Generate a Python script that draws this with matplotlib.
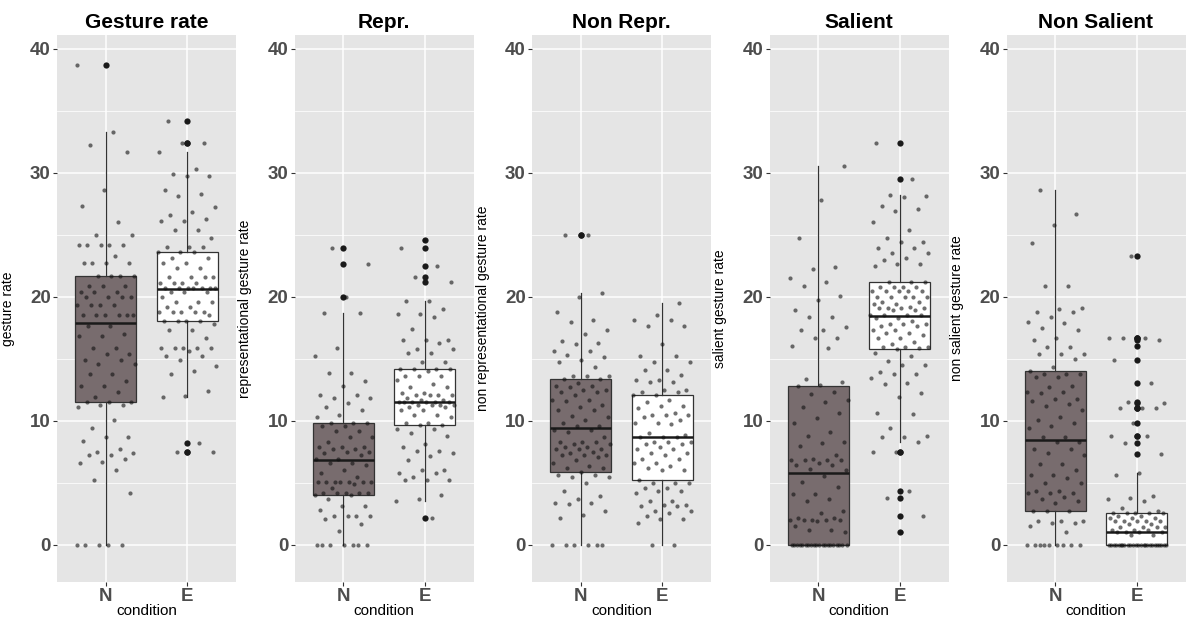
import numpy as np
import matplotlib
matplotlib.use("Agg")
import matplotlib.pyplot as plt

plt.rcParams['font.family'] = ['Liberation Sans', 'DejaVu Sans']

# values (rate per participant), N and E conditions
rate_N = [38.7, 33.3, 32.2, 31.7, 28.6, 27.3, 26.0, 25.0, 25.0, 24.2, 24.2, 24.2, 24.2, 24.2,
          23.3, 22.7, 22.7, 22.7, 22.7, 21.7, 21.7, 21.7, 21.7, 20.9, 20.9, 20.9, 20.4, 20.4,
          20.4, 20.0, 20.0, 20.0, 20.0, 19.3, 19.3, 19.3, 19.3, 18.5, 18.5, 18.5, 18.5, 18.5,
          18.5, 17.6, 17.6, 17.0, 16.8, 16.8, 15.9, 15.9, 15.4, 15.4, 14.9, 14.9, 14.6, 14.6,
          13.8, 13.8, 13.2, 12.8, 12.8, 12.3, 11.9, 11.5, 11.5, 11.5, 11.3, 11.3, 11.1, 10.1,
          9.4, 8.7, 8.7, 8.4, 7.7, 7.5, 7.4, 7.2, 7.2, 6.9, 6.7, 6.6, 6.0, 5.2, 4.2,
          0, 0, 0, 0, 0]
rate_E = [34.2, 32.4, 32.4, 31.7, 30.3, 29.9, 29.7, 29.7, 28.6, 28.3, 28.1, 27.2, 26.85, 26.6,
          26.25, 26.1, 26.1, 25.4, 25.4, 24.7, 24.0, 24.0, 24.0, 23.6, 23.6, 23.6, 23.1, 23.1,
          22.7, 22.7, 22.3, 22.3, 21.6, 21.6, 21.6, 21.6, 21.1, 21.1, 21.1, 21.1, 20.7, 20.7,
          20.7, 20.7, 20.7, 20.7, 20.7, 20.4, 20.4, 20.4, 20.0, 19.6, 19.6, 19.6, 19.2, 19.2,
          18.8, 18.8, 18.8, 18.8, 18.8, 18.5, 18.05, 18.05, 18.05, 18.05, 17.8, 17.35, 17.35,
          16.7, 15.9, 15.9, 15.9, 15.9, 15.9, 15.6, 15.2, 15.2, 14.9, 14.45, 14.0, 13.8, 12.4,
          12.0, 11.9, 8.2, 7.5, 7.5]

repr_N = [23.95, 22.6, 20.0, 18.7, 18.7, 15.9, 15.2, 13.85, 13.85, 13.2, 12.8, 12.1, 12.1,
          11.8, 11.8, 11.45, 11.1, 10.85, 10.5, 10.3, 9.85, 9.85, 9.85, 9.6, 9.6, 9.2, 9.2,
          8.7, 8.7, 8.3, 7.9, 7.9, 7.9, 7.7, 7.7, 7.5, 7.5, 7.4, 7.2, 6.9, 6.9, 6.6, 6.6, 6.4,
          6.0, 5.8, 5.5, 5.1, 5.1, 5.1, 5.1, 5.1, 5.1, 5.1, 4.9, 4.6, 4.2, 4.2, 4.2, 4.2, 4.2,
          4.0, 4.0, 3.7, 3.1, 3.1, 2.8, 2.3, 2.3, 2.3, 2.3, 2.1, 1.7, 1.1,
          0, 0, 0, 0, 0, 0, 0]
repr_E = [24.6, 23.9, 22.5, 21.6, 21.2, 19.65, 19.65, 19.0, 18.6, 18.6, 18.4, 17.4, 16.5, 16.5,
          16.5, 16.3, 15.75, 15.75, 15.5, 15.5, 14.7, 14.7, 14.2, 14.2, 14.2, 14.2, 14.0, 13.6,
          13.6, 13.6, 13.3, 12.95, 12.7, 12.7, 12.25, 12.25, 12.1, 12.1, 12.1, 12.1, 11.8,
          11.65, 11.65, 11.5, 11.5, 11.5, 11.5, 11.5, 11.5, 11.3, 11.3, 11.3, 11.3, 11.1, 11.1,
          10.85, 10.85, 10.45, 10.45, 10.3, 9.85, 9.85, 9.65, 9.65, 9.3, 9.3, 9.0, 8.8, 8.1,
          7.9, 7.6, 7.6, 7.4, 7.15, 6.8, 6.0, 6.0, 5.8, 5.8, 5.5, 5.2, 5.2, 5.2, 4.0, 3.7, 3.5,
          2.2]

nonrepr_N = [25.0, 25.0, 20.3, 20.0, 18.8, 18.15, 17.95, 17.35, 17.0, 16.4, 16.3, 16.2, 15.6,
             15.6, 15.3, 15.1, 14.9, 14.75, 14.3, 13.6, 13.6, 13.6, 13.35, 13.35, 13.05, 12.8,
             12.8, 12.7, 12.5, 12.5, 12.3, 12.3, 12.05, 11.7, 11.7, 11.6, 11.3, 11.1, 10.85,
             10.85, 10.4, 10.3, 10.05, 9.8, 9.6, 9.6, 9.25, 9.25, 9.1, 8.7, 8.3, 8.3, 8.3, 8.1,
             8.1, 7.9, 7.9, 7.7, 7.7, 7.7, 7.5, 7.4, 7.25, 7.25, 7.25, 7.1, 6.8, 6.6, 6.35, 6.2,
             6.2, 5.9, 5.6, 5.6, 5.5, 5.5, 4.95, 4.3, 3.9, 3.7, 3.35, 3.35, 3.3, 2.75, 2.4, 2.2,
             0, 0, 0, 0, 0, 0]
nonrepr_E = [19.5, 18.5, 18.15, 18.15, 17.6, 17.6, 16.2, 15.2, 15.2, 14.7, 14.7, 14.1, 14.1,
             13.7, 13.3, 13.3, 13.1, 13.1, 12.5, 12.5, 12.3, 12.3, 12.1, 12.1, 11.65, 11.5,
             11.2, 11.2, 11.0, 10.6, 10.45, 10.45, 10.45, 10.3, 10.05, 9.85, 9.85, 9.75, 9.05,
             8.85, 8.65, 8.65, 8.65, 8.3, 8.3, 8.3, 8.1, 8.1, 7.9, 7.7, 7.7, 7.4, 7.4, 7.25,
             6.95, 6.95, 6.6, 6.6, 6.35, 6.2, 6.0, 6.0, 5.2, 4.95, 4.95, 4.95, 4.55, 4.55, 4.35,
             4.35, 4.2, 3.5, 3.5, 3.2, 3.2, 3.1, 3.1, 2.75, 2.75, 2.6, 2.3, 2.05, 2.05, 1.75,
             0, 0]

sal_N = [30.5, 27.8, 24.7, 22.4, 22.2, 21.5, 21.2, 20.85, 20.05, 19.7, 18.9, 18.35, 18.35,
         17.55, 17.35, 17.35, 16.7, 16.7, 16.0, 15.9, 13.4, 13.1, 12.9, 12.8, 12.3, 12.15,
         11.65, 11.5, 11.1, 10.6, 10.2, 9.8, 9.1, 8.75, 8.3, 8.2, 8.0, 7.25, 6.9, 6.8, 6.8,
         6.8, 6.8, 6.6, 6.4, 6.4, 6.15, 6.0, 5.55, 5.1, 4.65, 4.1, 4.1, 3.7, 3.5, 2.75, 2.6,
         2.2, 2.15, 2.0, 2.0, 2.0, 2.0, 2.0, 1.95, 1.5, 1.2, 1.2, 1.0,
         0, 0, 0, 0, 0, 0, 0, 0, 0, 0, 0, 0, 0, 0, 0, 0, 0, 0, 0, 0]
sal_E = [32.4, 29.5, 28.2, 28.1, 28.05, 27.3, 27.1, 26.9, 26.0, 25.4, 24.7, 24.4, 24.4, 23.95,
         23.95, 23.5, 23.5, 23.1, 23.0, 22.6, 22.6, 22.5, 21.2, 21.2, 21.2, 20.8, 20.8, 20.8,
         20.8, 20.5, 20.5, 20.5, 20.5, 20.5, 20.0, 20.0, 20.0, 20.0, 20.0, 19.6, 19.6, 19.4,
         19.4, 19.2, 19.1, 19.1, 19.1, 19.1, 18.9, 18.9, 18.5, 18.5, 18.5, 18.5, 18.3, 18.3,
         18.05, 17.8, 17.8, 17.8, 17.6, 17.6, 17.35, 17.35, 17.1, 17.1, 16.9, 16.7, 16.7,
         16.35, 16.2, 15.95, 15.95, 15.95, 15.9, 15.75, 15.5, 15.2, 14.8, 14.5, 14.5, 13.95,
         13.8, 13.8, 13.45, 13.05, 12.95, 12.25, 11.9, 10.65, 10.55, 9.4, 8.75, 8.7, 8.7,
         8.25, 7.5, 7.5, 4.35, 3.75, 2.35, 1.0]

nonsal_N = [28.6, 26.7, 25.8, 24.3, 20.9, 20.9, 19.1, 19.0, 18.8, 18.8, 18.4, 17.95, 17.9,
            17.5, 17.35, 16.7, 16.5, 15.95, 15.95, 15.4, 15.4, 15.4, 15.0, 14.3, 14.05, 13.75,
            13.75, 13.75, 13.55, 13.55, 12.8, 12.7, 12.3, 12.3, 12.2, 11.75, 11.75, 11.6, 11.35,
            11.2, 10.9, 10.3, 10.1, 9.85, 9.6, 9.4, 8.66, 8.66, 8.3, 8.3, 7.7, 7.7, 7.4, 7.25,
            6.55, 6.55, 6.0, 5.6, 5.6, 5.35, 4.95, 4.95, 4.3, 4.3, 4.2, 4.2, 4.2, 3.85, 3.7,
            3.55, 3.35, 2.75, 2.75, 2.75, 1.9, 1.9, 1.9, 1.75, 1.75, 1.5, 1.0,
            0, 0, 0, 0, 0, 0, 0, 0, 0]
nonsal_E = [23.25, 16.7, 16.7, 16.7, 16.5, 16.0, 14.9, 13.05, 11.5, 11.4, 11.05, 11.05, 11.05,
            9.8, 8.8, 8.8, 8.2, 7.3, 5.75, 5.6, 3.9, 3.8, 3.7, 3.5, 2.95, 2.7, 2.55, 2.55, 2.55,
            2.55, 2.55, 2.35, 2.35, 2.15, 2.15, 2.15, 1.95, 1.95, 1.95, 1.95, 1.95, 1.65, 1.65,
            1.4, 1.4, 1.4, 1.4, 1.2, 1.2, 1.2, 1.0, 1.0, 1.0, 1.0, 0.8, 0.8,
            0, 0, 0, 0, 0, 0, 0, 0, 0, 0, 0, 0, 0, 0, 0, 0, 0, 0, 0, 0, 0, 0, 0, 0, 0]

# box statistics: [N, E]
q1 = [[11.5, 18.05], [4.0, 9.65], [5.9, 5.2], [0.0, 15.75], [2.7, 0.0]]
med = [[17.9, 20.65], [6.85, 11.5], [9.45, 8.65], [5.8, 18.45], [8.45, 1.05]]
q3 = [[21.7, 23.6], [9.85, 14.2], [13.35, 12.1], [12.8, 21.2], [14.05, 2.6]]
wlo = [[0.0, 11.9], [0.0, 3.5], [0.0, 0.0], [0.0, 8.25], [0.0, 0.0]]
whi = [[33.3, 31.7], [18.7, 19.65], [20.3, 19.5], [30.5, 28.2], [28.6, 5.75]]

titles = ["Gesture rate", "Repr.", "Non Repr.", "Salient", "Non Salient"]
ylabels = ["gesture rate", "representational gesture rate", "non representational gesture rate",
           "salient gesture rate", "non salient gesture rate"]
conditions = ["N", "E"]
groups = [(rate_N, rate_E), (repr_N, repr_E), (nonrepr_N, nonrepr_E),
          (sal_N, sal_E), (nonsal_N, nonsal_E)]

W, H = 1186, 617
fig = plt.figure(figsize=(W / 100, H / 100), dpi=100)
lefts = [57, 294.5, 532, 769.5, 1006.5]
fills = ["#786c6e", "white"]

for k in range(5):
    ax = fig.add_axes([lefts[k] / W, 35 / H, 179 / W, 547 / H])
    ax.set_facecolor("#e5e5e5")
    for s in ax.spines.values():
        s.set_visible(False)

    stats = []
    for j in range(2):
        vals = np.array(groups[k][j])
        fl = vals[(vals > whi[k][j] + 0.05) | (vals < wlo[k][j] - 0.05)]
        stats.append(dict(med=med[k][j], q1=q1[k][j], q3=q3[k][j],
                          whislo=wlo[k][j], whishi=whi[k][j], fliers=fl))
    bp = ax.bxp(stats, positions=[1, 2], widths=0.75, patch_artist=True, showcaps=False,
                manage_ticks=False,
                boxprops=dict(edgecolor="#333333", lw=0.9),
                whiskerprops=dict(color="#333333", lw=0.9),
                medianprops=dict(color="#1a1a1a", lw=1.8),
                flierprops=dict(marker="o", markerfacecolor="#1a1a1a", markeredgecolor="none",
                                markersize=4.5))
    for patch, c in zip(bp["boxes"], fills):
        patch.set_facecolor(c)

    for j in range(2):
        vals = np.array(groups[k][j])
        idx = np.arange(len(vals))
        off = ((idx * 0.618034 + 0.31 * k + 0.17 * j) % 1 - 0.5) * 0.72
        ax.scatter(j + 1 + off, vals, s=9, color="#111111", alpha=0.6, lw=0, zorder=3)

    ax.set_xlim(0.4, 2.6)
    ax.set_ylim(-3, 41.1)
    ax.set_yticks([0, 10, 20, 30, 40])
    ax.set_yticks([5, 15, 25, 35], minor=True)
    ax.set_xticks([1, 2])
    ax.set_xticklabels(conditions)
    ax.grid(True, which="major", color="white", lw=1.1)
    ax.grid(True, which="minor", axis="y", color="white", lw=0.55)
    ax.set_axisbelow(True)
    ax.tick_params(axis="both", which="major", length=3, width=0.8, color="#333333",
                   labelcolor="#4d4d4d", labelsize=13.5, pad=1.5)
    ax.tick_params(axis="y", which="minor", length=0)
    for t in ax.get_xticklabels() + ax.get_yticklabels():
        t.set_fontweight("bold")

    ax.set_title(titles[k], fontsize=15, fontweight="bold", color="black", pad=5)
    ax.set_ylabel(ylabels[k], fontsize=10, color="black")
    ax.yaxis.set_label_coords(-0.235, 0.5)
    ax.set_xlabel("condition", fontsize=11, color="black")
    ax.xaxis.set_label_coords(0.5, -0.04)

fig.savefig("out.png", dpi=100, facecolor="white")
